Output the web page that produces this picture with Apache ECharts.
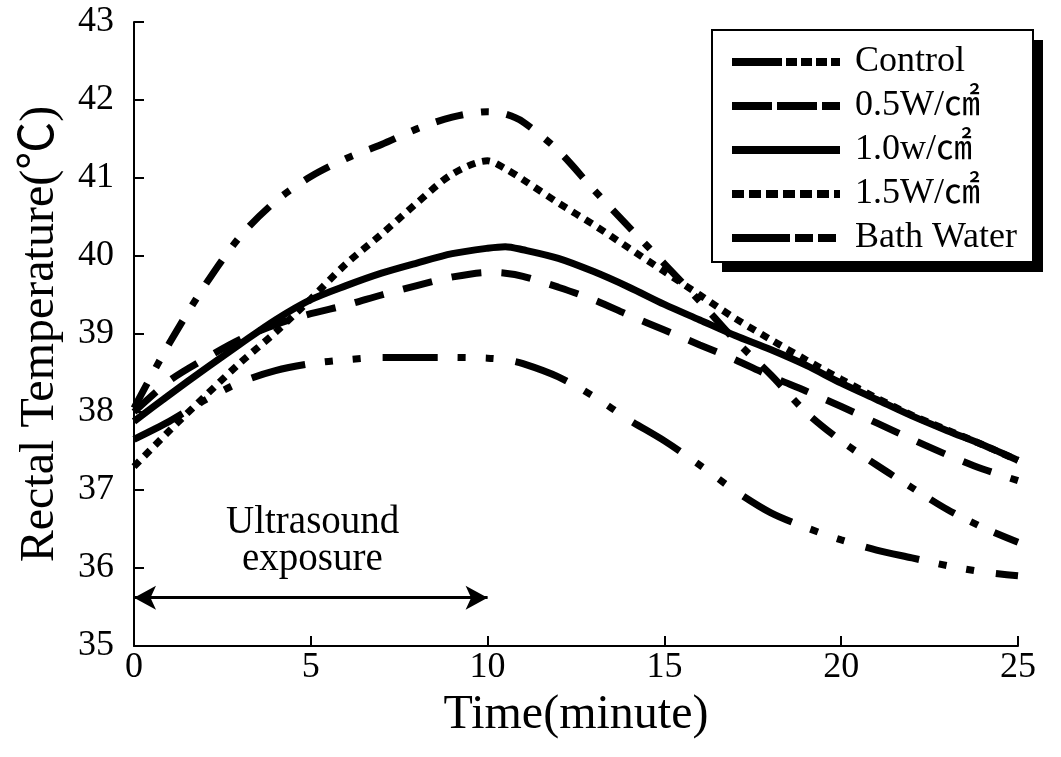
<!DOCTYPE html>
<html>
<head>
<meta charset="utf-8">
<script src="https://cdn.jsdelivr.net/npm/echarts@6/dist/echarts.min.js"></script>
<style>
html,body{margin:0;padding:0;background:#fff;}
#chart{width:1061px;height:757px;}
</style>
</head>
<body>
<div id="chart"></div>
<script>
// ---- data ----
var times = [0,1,2,3,4,5,6,7,8,9,10,10.5,11,12,13,14,15,16,17,18,19,20,21,22,23,24,25];
var seriesNames = ['Control','0.5W/㎠','1.0w/㎠','1.5W/㎠','Bath Water'];
var control = [37.65,37.88,38.15,38.38,38.53,38.62,38.67,38.7,38.7,38.7,38.69,38.67,38.62,38.45,38.2,37.9,37.63,37.32,36.99,36.71,36.52,36.36,36.23,36.13,36.03,35.95,35.9];
var w05 = [38.0,38.4,38.68,38.93,39.12,39.26,39.37,39.5,39.62,39.73,39.79,39.78,39.74,39.6,39.44,39.24,39.05,38.86,38.67,38.46,38.27,38.07,37.86,37.65,37.45,37.27,37.12];
var w10 = [37.88,38.22,38.55,38.87,39.18,39.44,39.62,39.78,39.91,40.03,40.1,40.12,40.08,39.97,39.8,39.6,39.38,39.18,38.98,38.8,38.6,38.37,38.16,37.95,37.76,37.58,37.38];
var w15 = [37.3,37.76,38.2,38.63,39.02,39.45,39.9,40.28,40.68,41.05,41.22,41.12,40.98,40.68,40.4,40.1,39.8,39.5,39.2,38.93,38.67,38.42,38.18,37.96,37.77,37.58,37.38];
var bath = [38.05,38.88,39.62,40.25,40.7,41.02,41.25,41.43,41.63,41.78,41.85,41.82,41.72,41.35,40.85,40.37,39.9,39.42,38.92,38.48,38.0,37.63,37.32,37.03,36.75,36.52,36.33];
var yTicks = {min:35, max:43, step:1};
var xTicks = {min:0, max:25, step:5};
var exposure = {start:0, end:10, level:35.62};

function pairs(vals){ return times.map(function(t,i){ return [t, vals[i]]; }); }

var FONT = "'Liberation Serif','Times New Roman','Noto Sans CJK SC',serif";

var chart = echarts.init(document.getElementById('chart'));
var dashes = {
  'Control':[55,20,8,20,8,22],
  '0.5W/㎠':[30,20],
  '1.0w/㎠':'solid',
  '1.5W/㎠':[8,7],
  'Bath Water':[28,18,8,18]
};
var legendDashes = {
  'Control':[50,4,11,4,11,4,11,4,11],
  '0.5W/㎠':[40,5,40,5,18],
  '1.0w/㎠':'solid',
  '1.5W/㎠':[12,5],
  'Bath Water':[58,5,18,5,18]
};
var valuesList = [control,w05,w10,w15,bath];

var series = seriesNames.map(function(n,i){
  var s = {
    name:n, type:'line', data:pairs(valuesList[i]), smooth:0.3,
    symbol:'none', showSymbol:false,
    lineStyle:{color:'#000', width:7, type:dashes[n], cap:'butt'},
    itemStyle:{color:'#000'},
    z: 2
  };
  if(i===0){
    s.markLine = {
      silent:true, symbol:['arrow','arrow'], symbolSize:[18,22],
      label:{show:false},
      lineStyle:{type:'solid', width:3, color:'#000'},
      data:[[{coord:[exposure.start,exposure.level]},{coord:[exposure.end,exposure.level]}]]
    };
  }
  return s;
});

chart.setOption({
  animation:false,
  backgroundColor:'#fff',
  grid:{left:134, right:43, top:22, bottom:111, containLabel:false},
  xAxis:{
    type:'value', min:xTicks.min, max:xTicks.max, interval:xTicks.step,
    name:'Time(minute)', nameLocation:'middle', nameGap:42,
    nameTextStyle:{fontFamily:FONT, fontSize:48, color:'#000'},
    axisLine:{show:true, lineStyle:{color:'#000', width:2}},
    axisTick:{show:true, inside:true, length:10, lineStyle:{color:'#000', width:2}},
    axisLabel:{fontFamily:FONT, fontSize:36, color:'#000', margin:4},
    splitLine:{show:false}
  },
  yAxis:{
    type:'value', min:yTicks.min, max:yTicks.max, interval:yTicks.step,
    name:'Rectal Temperature(℃)', nameLocation:'middle', nameGap:70, nameRotate:90,
    nameTextStyle:{fontFamily:FONT, fontSize:48, color:'#000'},
    axisLine:{show:true, lineStyle:{color:'#000', width:2}},
    axisTick:{show:true, inside:true, length:10, lineStyle:{color:'#000', width:2}},
    axisLabel:{fontFamily:FONT, fontSize:36, color:'#000', margin:20},
    splitLine:{show:false}
  },
  legend:{
    orient:'vertical', left:712, top:32, z:10,
    padding:[12,11,14,16],
    itemWidth:108, itemHeight:14, itemGap:8,
    textStyle:{fontFamily:FONT, fontSize:36, lineHeight:35, color:'#000', padding:[0,0,0,10]},
    data: seriesNames.map(function(n){
      return {name:n,
        itemStyle:{color:'rgba(0,0,0,0)', borderColor:'rgba(0,0,0,0)', borderWidth:0, opacity:0},
        lineStyle:{color:'#000', width:8, type:legendDashes[n], cap:'butt', opacity:1}};
    })
  },
  graphic:[{
    type:'rect', z:1, silent:true,
    shape:{x:722, y:40, width:321, height:232},
    style:{fill:'#000'}
  },{
    type:'rect', z:2, silent:true,
    shape:{x:712, y:30, width:321, height:232},
    style:{fill:'#fff', stroke:'#000', lineWidth:2}
  },{
    type:'text', left:226, top:503,
    style:{text:'Ultrasound', font:"39px 'Liberation Serif', serif", fill:'#000'}
  },{
    type:'text', left:242, top:540,
    style:{text:'exposure', font:"39px 'Liberation Serif', serif", fill:'#000'}
  }],
  series:series
});
</script>
</body>
</html>
